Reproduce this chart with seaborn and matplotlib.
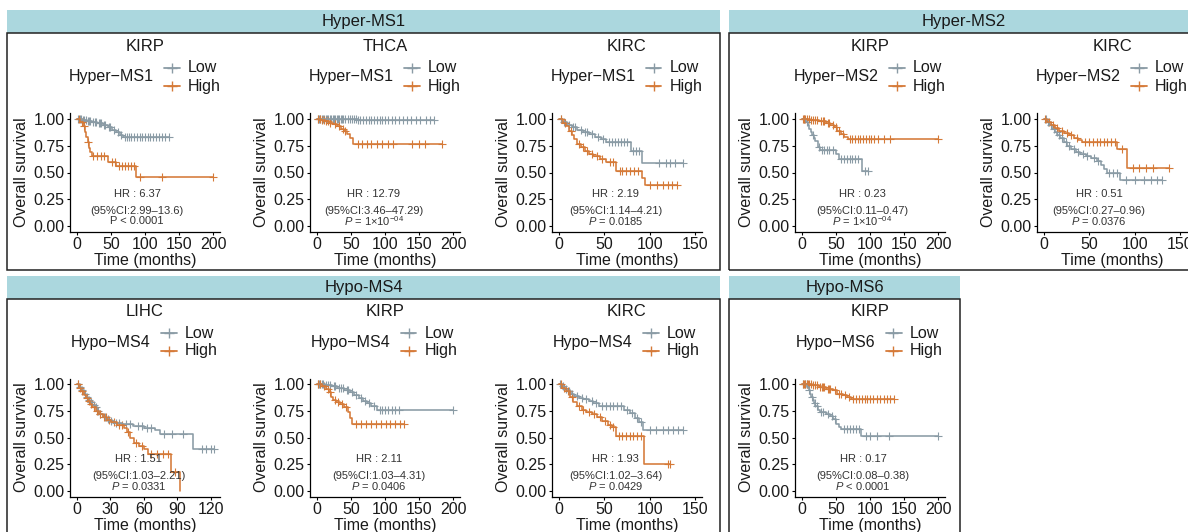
import numpy as np
import pandas as pd
import matplotlib
matplotlib.use('Agg')
import matplotlib.pyplot as plt
import seaborn as sns
from matplotlib.patches import Rectangle
from matplotlib.lines import Line2D

# ---- Kaplan-Meier curves (step times, survival after step, censor times)

# Hyper-MS1 / KIRP
h1_kirp_low_t = [8, 15, 22, 30, 38, 45, 52, 58, 63, 68]
h1_kirp_low_s = [0.99, 0.98, 0.97, 0.96, 0.94, 0.92, 0.90, 0.88, 0.85, 0.83]
h1_kirp_low_c = [2, 4, 6, 9, 11, 13, 16, 18, 20, 24, 26, 28, 32, 34, 36, 40, 42, 47, 49, 55, 60, 65, 70,
                 73, 76, 80, 84, 88, 92, 96, 100, 104, 108, 112, 116, 120, 125, 130, 135]
h1_kirp_high_t = [5, 9, 12, 14, 16, 18, 20, 22, 45, 58, 87]
h1_kirp_high_s = [0.97, 0.93, 0.88, 0.83, 0.78, 0.73, 0.69, 0.65, 0.60, 0.56, 0.46]
h1_kirp_high_c = [3, 7, 10, 17, 24, 30, 35, 40, 52, 56, 62, 66, 70, 75, 80, 84, 92, 125, 200]

# Hyper-MS1 / THCA
h1_thca_low_t = [20, 60]
h1_thca_low_s = [0.995, 0.99]
h1_thca_low_c = [1, 3, 5, 7, 9, 11, 13, 15, 17, 19, 21, 23, 25, 27, 29, 31, 33, 35, 37, 39, 42, 45, 48,
                 51, 54, 57, 60, 64, 68, 72, 76, 80, 84, 88, 92, 96, 100, 105, 110, 115, 120, 126, 132,
                 138, 145, 152, 160, 166, 172]
h1_thca_high_t = [6, 12, 18, 24, 30, 35, 40, 44, 48, 53]
h1_thca_high_s = [0.99, 0.98, 0.965, 0.95, 0.935, 0.91, 0.89, 0.86, 0.82, 0.77]
h1_thca_high_c = [2, 4, 8, 10, 14, 16, 20, 26, 33, 38, 42, 60, 66, 74, 80, 88, 95, 105, 112, 140, 150,
                  158, 183]

# Hyper-MS1 / KIRC
h1_kirc_low_t = [4, 9, 14, 20, 27, 33, 40, 46, 52, 79, 91]
h1_kirc_low_s = [0.97, 0.94, 0.92, 0.90, 0.88, 0.86, 0.83, 0.81, 0.78, 0.70, 0.59]
h1_kirc_low_c = [2, 6, 11, 16, 18, 24, 29, 31, 36, 43, 49, 55, 59, 62, 65, 68, 72, 75, 82, 85, 88, 110,
                 118, 122, 128, 137]
h1_kirc_high_t = [5, 8, 11, 14, 17, 20, 24, 29, 33, 38, 45, 52, 63, 92, 95]
h1_kirc_high_s = [0.96, 0.93, 0.89, 0.85, 0.81, 0.77, 0.74, 0.70, 0.67, 0.655, 0.63, 0.60, 0.51, 0.45, 0.38]
h1_kirc_high_c = [2, 7, 13, 22, 27, 31, 36, 42, 48, 56, 60, 67, 70, 74, 78, 83, 87, 100, 108, 115, 120,
                  125, 130]

# Hyper-MS2 / KIRP
h2_kirp_low_t = [6, 9, 11, 13, 15, 18, 20, 23, 27, 50, 55, 88]
h2_kirp_low_s = [0.97, 0.94, 0.91, 0.88, 0.85, 0.82, 0.79, 0.74, 0.71, 0.67, 0.63, 0.51]
h2_kirp_low_c = [3, 8, 17, 25, 30, 33, 37, 40, 45, 58, 62, 66, 70, 74, 78, 82, 92, 97]
h2_kirp_high_t = [12, 25, 35, 42, 47, 52, 57, 62, 67]
h2_kirp_high_s = [0.99, 0.98, 0.96, 0.94, 0.92, 0.89, 0.86, 0.83, 0.81]
h2_kirp_high_c = [1, 3, 5, 8, 10, 14, 16, 19, 22, 28, 31, 33, 38, 40, 45, 50, 55, 60, 70, 74, 78, 82, 86,
                  90, 94, 98, 102, 106, 112, 120, 130, 200]

# Hyper-MS2 / KIRC
h2_kirc_low_t = [3, 6, 9, 12, 15, 18, 22, 26, 30, 35, 40, 46, 52, 58, 63, 66, 69, 84]
h2_kirc_low_s = [0.97, 0.94, 0.91, 0.88, 0.85, 0.82, 0.78, 0.75, 0.72, 0.69, 0.67, 0.655, 0.635, 0.61,
                 0.57, 0.53, 0.50, 0.43]
h2_kirc_low_c = [2, 5, 8, 11, 14, 17, 20, 24, 28, 33, 38, 43, 48, 55, 60, 72, 76, 80, 90, 100, 110, 118,
                 125, 130]
h2_kirc_high_t = [4, 8, 12, 17, 22, 28, 33, 38, 42, 81, 92]
h2_kirc_high_s = [0.97, 0.94, 0.915, 0.89, 0.87, 0.85, 0.82, 0.80, 0.78, 0.72, 0.54]
h2_kirc_high_c = [1, 6, 10, 15, 20, 25, 30, 36, 45, 50, 54, 58, 62, 66, 70, 74, 78, 86, 98, 105, 112,
                  120, 138]

# Hypo-MS4 / LIHC
m4_lihc_low_t = [2, 4, 6, 8, 10, 12, 14, 16, 18, 20, 23, 26, 29, 33, 40, 50, 60, 70, 74, 104]
m4_lihc_low_s = [0.97, 0.94, 0.91, 0.88, 0.85, 0.83, 0.80, 0.78, 0.75, 0.72, 0.69, 0.67, 0.65, 0.635,
                 0.625, 0.61, 0.59, 0.57, 0.535, 0.39]
m4_lihc_low_c = [1, 3, 5, 7, 9, 11, 13, 15, 17, 19, 21, 25, 28, 31, 35, 38, 44, 48, 55, 58, 63, 66, 78,
                 85, 95, 112, 116, 120, 123]
m4_lihc_high_t = [2, 4, 6, 8, 10, 12, 14, 17, 20, 23, 27, 31, 36, 42, 45, 48, 51, 56, 60, 64, 84, 92]
m4_lihc_high_s = [0.96, 0.93, 0.90, 0.87, 0.84, 0.81, 0.78, 0.75, 0.72, 0.69, 0.66, 0.64, 0.62, 0.59,
                  0.55, 0.50, 0.45, 0.42, 0.39, 0.35, 0.18, 0.0]
m4_lihc_high_c = [1, 3, 5, 9, 11, 13, 15, 18, 21, 24, 26, 29, 33, 38, 40, 46, 53, 58, 66, 72, 77, 82, 88]

# Hypo-MS4 / KIRP
m4_kirp_low_t = [12, 22, 30, 40, 48, 55, 62, 68, 74, 80, 88]
m4_kirp_low_s = [0.99, 0.98, 0.96, 0.94, 0.92, 0.90, 0.87, 0.84, 0.82, 0.79, 0.76]
m4_kirp_low_c = [1, 3, 5, 7, 9, 14, 17, 20, 25, 27, 33, 36, 38, 44, 46, 51, 58, 65, 71, 77, 84, 92, 96,
                 100, 105, 110, 115, 120, 200]
m4_kirp_high_t = [8, 14, 18, 21, 24, 28, 34, 40, 45, 49, 52]
m4_kirp_high_s = [0.98, 0.95, 0.92, 0.88, 0.85, 0.83, 0.81, 0.78, 0.74, 0.68, 0.63]
m4_kirp_high_c = [2, 5, 11, 16, 20, 26, 31, 37, 43, 58, 65, 72, 80, 87, 94, 101, 108, 115, 122, 128]

# Hypo-MS4 / KIRC
m4_kirc_low_t = [3, 6, 9, 13, 17, 22, 27, 33, 38, 44, 72, 78, 84, 88, 93]
m4_kirc_low_s = [0.98, 0.95, 0.93, 0.91, 0.89, 0.87, 0.86, 0.84, 0.82, 0.79, 0.755, 0.73, 0.68, 0.64, 0.57]
m4_kirc_low_c = [1, 5, 8, 11, 15, 20, 25, 30, 36, 41, 48, 52, 56, 60, 64, 68, 75, 81, 86, 90, 100, 107,
                 115, 120, 126, 131, 137]
m4_kirc_high_t = [4, 8, 12, 16, 20, 25, 30, 36, 42, 48, 54, 58, 63, 94]
m4_kirc_high_s = [0.96, 0.93, 0.88, 0.83, 0.79, 0.76, 0.74, 0.72, 0.69, 0.65, 0.615, 0.60, 0.51, 0.25]
m4_kirc_high_c = [2, 6, 10, 14, 22, 27, 33, 39, 45, 51, 56, 60, 66, 70, 74, 78, 82, 86, 90, 120, 122]

# Hypo-MS6 / KIRP
m6_kirp_low_t = [8, 10, 12, 14, 16, 18, 20, 23, 26, 35, 42, 46, 50, 54, 58, 87]
m6_kirp_low_s = [0.97, 0.94, 0.91, 0.88, 0.85, 0.82, 0.79, 0.76, 0.74, 0.72, 0.70, 0.67, 0.63, 0.60,
                 0.58, 0.51]
m6_kirp_low_c = [2, 5, 7, 11, 15, 19, 22, 28, 31, 38, 44, 48, 62, 66, 70, 75, 80, 84, 94, 100, 110, 128, 200]
m6_kirp_high_t = [15, 25, 35, 45, 52, 60, 66, 72]
m6_kirp_high_s = [0.99, 0.97, 0.955, 0.94, 0.91, 0.895, 0.88, 0.86]
m6_kirp_high_c = [1, 3, 5, 7, 9, 11, 13, 17, 20, 22, 27, 29, 31, 33, 38, 40, 42, 48, 55, 58, 63, 69, 75,
                  80, 84, 88, 92, 96, 100, 105, 110, 115, 120, 125, 130, 135]

# HR annotations
hr_labels = ["HR : 6.37", "HR : 12.79", "HR : 2.19", "HR : 0.23", "HR : 0.51",
             "HR : 1.51", "HR : 2.11", "HR : 1.93", "HR : 0.17"]
ci_labels = ["(95%CI:2.99–13.6)", "(95%CI:3.46–47.29)", "(95%CI:1.14–4.21)", "(95%CI:0.11–0.47)",
             "(95%CI:0.27–0.96)", "(95%CI:1.03–2.21)", "(95%CI:1.03–4.31)", "(95%CI:1.02–3.64)",
             "(95%CI:0.08–0.38)"]
p_labels = ["P < 0.0001", r"$\mathit{P}$ = 1×10$^{-04}$", r"$\mathit{P}$ = 0.0185",
            r"$\mathit{P}$ = 1×10$^{-04}$", r"$\mathit{P}$ = 0.0376", r"$\mathit{P}$ = 0.0331",
            r"$\mathit{P}$ = 0.0406", r"$\mathit{P}$ = 0.0429", r"$\mathit{P}$ < 0.0001"]
cancers = ["KIRP", "THCA", "KIRC", "KIRP", "KIRC", "LIHC", "KIRP", "KIRC", "KIRP"]
signatures = ["Hyper-MS1", "Hyper-MS1", "Hyper-MS1", "Hyper-MS2", "Hyper-MS2",
              "Hypo-MS4", "Hypo-MS4", "Hypo-MS4", "Hypo-MS6"]

curves = [
    (h1_kirp_low_t, h1_kirp_low_s, h1_kirp_low_c, h1_kirp_high_t, h1_kirp_high_s, h1_kirp_high_c),
    (h1_thca_low_t, h1_thca_low_s, h1_thca_low_c, h1_thca_high_t, h1_thca_high_s, h1_thca_high_c),
    (h1_kirc_low_t, h1_kirc_low_s, h1_kirc_low_c, h1_kirc_high_t, h1_kirc_high_s, h1_kirc_high_c),
    (h2_kirp_low_t, h2_kirp_low_s, h2_kirp_low_c, h2_kirp_high_t, h2_kirp_high_s, h2_kirp_high_c),
    (h2_kirc_low_t, h2_kirc_low_s, h2_kirc_low_c, h2_kirc_high_t, h2_kirc_high_s, h2_kirc_high_c),
    (m4_lihc_low_t, m4_lihc_low_s, m4_lihc_low_c, m4_lihc_high_t, m4_lihc_high_s, m4_lihc_high_c),
    (m4_kirp_low_t, m4_kirp_low_s, m4_kirp_low_c, m4_kirp_high_t, m4_kirp_high_s, m4_kirp_high_c),
    (m4_kirc_low_t, m4_kirc_low_s, m4_kirc_low_c, m4_kirc_high_t, m4_kirc_high_s, m4_kirc_high_c),
    (m6_kirp_low_t, m6_kirp_low_s, m6_kirp_low_c, m6_kirp_high_t, m6_kirp_high_s, m6_kirp_high_c),
]

# ---- layout (pixels)
x_range = [200, 200, 150, 200, 150, 122, 200, 150, 200]
x_step = [50, 50, 50, 50, 50, 30, 50, 50, 50]
ax_left = [70, 310, 552, 795, 1037, 70, 310, 552, 795]
ax_top = [113.5, 113.5, 113.5, 113.5, 113.5, 378.5, 378.5, 378.5, 378.5]
hr_x = [0.448, 0.425, 0.425, 0.448, 0.414, 0.458, 0.459, 0.425, 0.453]
AX_W, AX_H = 150, 118

PAL = {"Low": "#8A9BA5", "High": "#D57A38"}
STRIP = "#ABD7DE"
TXT = "#1a1a1a"

sns.set_theme(style="white")
plt.rcParams['font.family'] = ['Liberation Sans', 'DejaVu Sans']
plt.rcParams['mathtext.fontset'] = 'custom'
plt.rcParams['mathtext.rm'] = 'Liberation Sans'
plt.rcParams['mathtext.it'] = 'Liberation Sans:italic'

FW, FH = 1188, 532
fig = plt.figure(figsize=(FW / 100, FH / 100), dpi=100)
fig.patch.set_facecolor("white")


def fx(x):
    return x / FW


def fy(y):
    return 1 - y / FH


# facet strips and boxes (the right-hand group runs past the figure edge, as in the original)
groups = [("Hyper-MS1", 7, 720, 10, 33, 270, 364), ("Hyper-MS2", 729, 1200, 10, 33, 270, 964),
          ("Hypo-MS4", 7, 720, 276, 299, 545, 364), ("Hypo-MS6", 729, 960, 276, 299, 545, 845)]
for name, x0, x1, y0, y1, y2, xc in groups:
    fig.add_artist(Rectangle((fx(x0), fy(y1)), (x1 - x0) / FW, (y1 - y0) / FH,
                             transform=fig.transFigure, facecolor=STRIP, edgecolor="none"))
    fig.add_artist(Rectangle((fx(x0), fy(y2)), (x1 - x0) / FW, (y2 - y1) / FH,
                             transform=fig.transFigure, fill=False, edgecolor="#222222", lw=1.1))
    fig.text(fx(xc), fy((y0 + y1) / 2), name, ha="center", va="center", fontsize=12, color=TXT)


def km_frame(t, s, cens, label):
    end = max(cens + t)
    tt = np.array([0] + t + [end], dtype=float)
    ss = np.array([1.0] + s + [s[-1]])
    line = pd.DataFrame({"time": tt, "surv": ss, "group": label})
    idx = np.searchsorted(tt, np.array(cens, dtype=float), side="right") - 1
    marks = pd.DataFrame({"time": cens, "surv": ss[np.clip(idx, 0, len(ss) - 1)], "group": label})
    return line, marks


for i in range(9):
    lt, ls, lc, ht, hs, hc = curves[i]
    l1, m1 = km_frame(lt, ls, lc, "Low")
    l2, m2 = km_frame(ht, hs, hc, "High")
    lines = pd.concat([l1, l2], ignore_index=True)
    marks = pd.concat([m1, m2], ignore_index=True)

    L, T = ax_left[i], ax_top[i]
    ax = fig.add_axes([fx(L), fy(T + AX_H), AX_W / FW, AX_H / FH])
    ax.set_facecolor("none")
    for g in ["Low", "High"]:
        sns.lineplot(data=lines[lines.group == g], x="time", y="surv", color=PAL[g],
                     drawstyle="steps-post", estimator=None, sort=False, linewidth=1.15, ax=ax)
        sns.scatterplot(data=marks[marks.group == g], x="time", y="surv", color=PAL[g],
                        marker="+", s=36, linewidth=0.8, ax=ax)

    R = x_range[i]
    ax.set_xlim(-0.05 * R, 1.05 * R)
    ax.set_ylim(-0.05, 1.05)
    ax.set_xticks(np.arange(0, R + 1, x_step[i]))
    ax.set_yticks([0, 0.25, 0.5, 0.75, 1.0])
    ax.set_yticklabels(["0.00", "0.25", "0.50", "0.75", "1.00"])
    sns.despine(ax=ax)
    for sp in ["left", "bottom"]:
        ax.spines[sp].set_color("black")
        ax.spines[sp].set_linewidth(0.9)
    ax.tick_params(direction="out", length=2.5, width=0.8, color="black", labelsize=11.5,
                   labelcolor=TXT, pad=1.5, left=True, bottom=True)
    ax.set_xlabel("Time (months)", fontsize=11.5, color=TXT, labelpad=1)
    ax.set_ylabel("Overall survival", fontsize=11.5, color=TXT, labelpad=3)

    tr = ax.get_yaxis_transform()
    ax.text(hr_x[i], 0.30, hr_labels[i], transform=tr, ha="center", va="center", fontsize=8, color="#333333")
    ax.text(hr_x[i], 0.145, ci_labels[i], transform=tr, ha="center", va="center", fontsize=8, color="#333333")
    ax.text(hr_x[i], 0.05, p_labels[i], transform=tr, ha="center", va="center", fontsize=8, color="#333333")

    # panel title and legend (title on the left of the keys, as ggplot draws it)
    C = L + AX_W / 2
    fig.text(fx(C), fy(T - 67), cancers[i], ha="center", va="center", fontsize=12, color=TXT)
    dx = 8.5 if signatures[i].startswith("Hyper") else 5.5
    fig.text(fx(C + dx), fy(T - 36.5), signatures[i].replace("-", "−"), ha="right", va="center",
             fontsize=11.5, color=TXT)
    for lab, yoff in [("Low", -45.5), ("High", -27.5)]:
        k0, k1 = C + dx + 10, C + dx + 26
        fig.add_artist(Line2D([fx(k0), fx((k0 + k1) / 2), fx(k1)], [fy(T + yoff)] * 3,
                              transform=fig.transFigure, color=PAL[lab], lw=1.3,
                              marker="+", markevery=[1], markersize=7, mew=1.0))
        fig.text(fx(C + dx + 34.5), fy(T + yoff), lab, ha="left", va="center", fontsize=11.5, color=TXT)

fig.savefig("out.png", dpi=100)
